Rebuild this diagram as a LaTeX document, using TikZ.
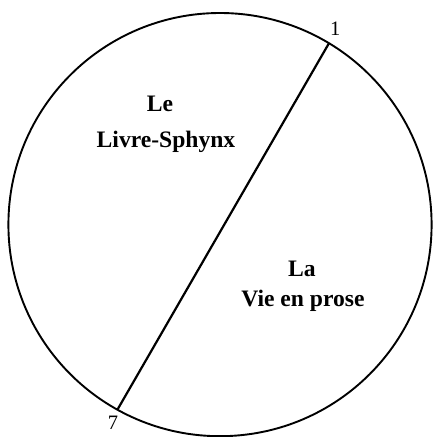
\documentclass[tikz,border=0pt]{standalone}
\usepackage{fontspec}
\setmainfont{Liberation Serif}
\usepackage{tikz}
\usetikzlibrary{positioning}

\begin{document}
\begin{tikzpicture}[x=1pt,y=1pt,
    disc/.style={draw,circle,line width=1.9pt,minimum size=423.2pt,inner sep=0pt,outer sep=0pt},
    chord/.style={line width=2.2pt},
    title/.style={font=\bfseries\fontsize{23.6}{28}\selectfont,inner sep=0pt},
    num/.style={font=\fontsize{20.5}{24}\selectfont,inner sep=0pt}
]
\useasboundingbox (0,0) rectangle (432,437);
\node[disc] (C) at (220,212.4) {};
\coordinate (p1) at (C.59.8);
\coordinate (p7) at (C.241);

\draw[chord] (p1) -- (p7);

\node[num,anchor=south west] (n1) at ([xshift=1pt,yshift=8pt]p1) {1};
\node[num,anchor=north east] (n7) at ([xshift=1pt,yshift=-6pt]p7) {7};

\node[title,anchor=base] (le) at (160,325) {Le};
\node[title,below=35.5pt of le.base,anchor=base,xshift=6pt] (livre) {Livre-Sphynx};
\node[title,anchor=base] (la) at (302,160.5) {La};
\node[title,below=30pt of la.base,anchor=base,xshift=1pt] (vie) {Vie en prose};
\end{tikzpicture}
\end{document}
